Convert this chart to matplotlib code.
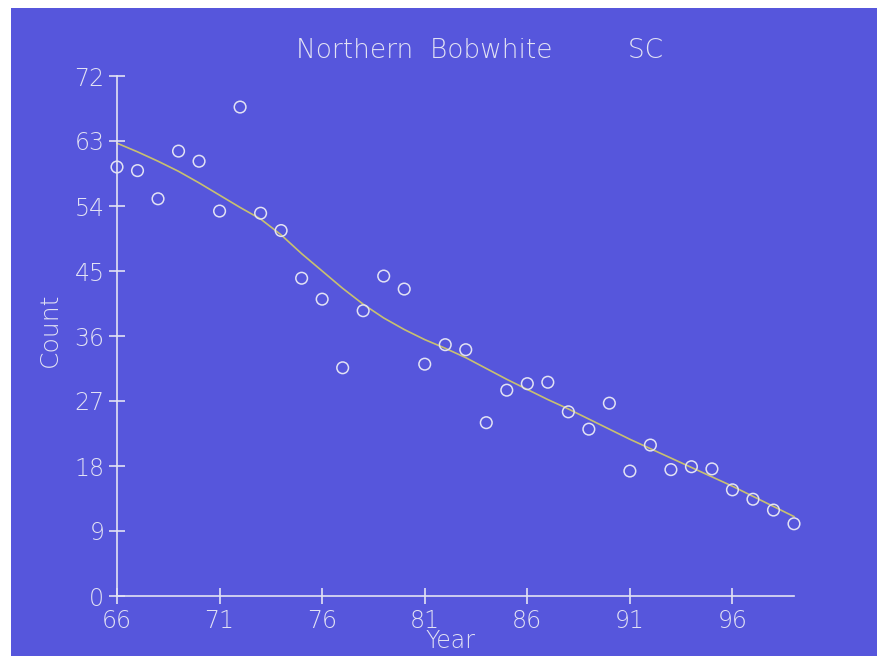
import matplotlib.pyplot as plt
from matplotlib.patches import Rectangle

# observed counts per year
years = list(range(66, 100))
counts = [59.4, 58.9, 55.0, 61.6, 60.2, 53.3, 67.7, 53.0, 50.6, 44.0,
          41.1, 31.6, 39.5, 44.3, 42.5, 32.1, 34.8, 34.1, 24.0, 28.5,
          29.4, 29.6, 25.5, 23.1, 26.7, 17.3, 20.9, 17.5, 17.9, 17.6,
          14.7, 13.4, 11.9, 10.0]
# smoothed trend
trend = [62.7, 61.5, 60.2, 58.8, 57.2, 55.5, 53.8, 52.2, 50.0, 47.4,
         45.0, 42.6, 40.4, 38.5, 36.9, 35.5, 34.3, 33.0, 31.5, 30.0,
         28.6, 27.2, 25.9, 24.5, 23.1, 21.7, 20.4, 19.1, 17.8, 16.5,
         15.2, 13.8, 12.4, 11.0]

xticks = [66, 71, 76, 81, 86, 91, 96]
yticks = [0, 9, 18, 27, 36, 45, 54, 63, 72]

bg = '#5656dc'
fg = '#e2e2f4'

fig = plt.figure(figsize=(8.78, 6.56), dpi=100, facecolor='white')
fig.patches.append(Rectangle((11 / 878, 0), 1, 1 - 8 / 656, transform=fig.transFigure,
                             facecolor=bg, edgecolor='none', zorder=-10))

ax = fig.add_axes([117 / 878, 60 / 656, (794 - 117) / 878, (596 - 76) / 656])
ax.set_facecolor('none')
ax.set_zorder(5)

ax.plot(years, trend, color='#c8c070', lw=1.2, zorder=2, clip_on=False)
ax.scatter(years, counts, s=70, facecolors='none', edgecolors=fg, linewidths=1.1,
           zorder=3, clip_on=False)

ax.set_xlim(66, 99)
ax.set_ylim(0, 72)
ax.set_xticks(xticks)
ax.set_yticks(yticks)
for s in ['top', 'right']:
    ax.spines[s].set_visible(False)
for s in ['left', 'bottom']:
    ax.spines[s].set_color(fg)
    ax.spines[s].set_linewidth(1.2)
ax.tick_params(colors=fg, direction='inout', length=12, width=1.2, labelsize=17, pad=3)
for lab in ax.get_xticklabels() + ax.get_yticklabels():
    lab.set_fontweight('light')

fig.text(480 / 878, 1 - 50 / 656, 'Northern  Bobwhite         SC', color=fg, fontsize=19,
         fontweight='light', ha='center', va='center')
fig.text(50 / 878, 1 - 330 / 656, 'Count', color=fg, fontsize=18, fontweight='light',
         rotation=90, ha='center', va='center')
fig.text(450 / 878, 1 - 641 / 656, 'Year', color=fg, fontsize=17, fontweight='light',
         ha='center', va='center')

fig.savefig('out.png', dpi=100, facecolor='white')
